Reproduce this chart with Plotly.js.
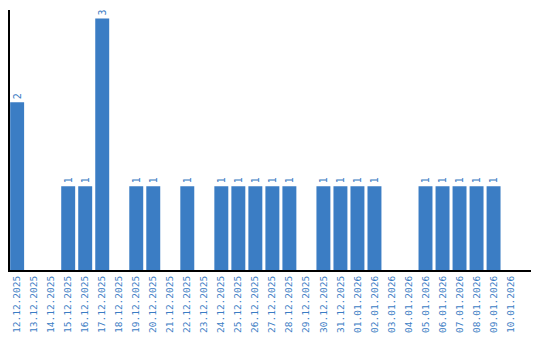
<!DOCTYPE html>
<html><head><meta charset="utf-8">
<script src="https://cdn.plot.ly/plotly-3.0.1.min.js"></script>
<style>html,body{margin:0;padding:0;background:#fff}</style>
</head><body><div id="chart" style="width:540px;height:340px"></div>
<script>
const dates = ["12.12.2025","13.12.2025","14.12.2025","15.12.2025","16.12.2025","17.12.2025","18.12.2025","19.12.2025","20.12.2025","21.12.2025","22.12.2025","23.12.2025","24.12.2025","25.12.2025","26.12.2025","27.12.2025","28.12.2025","29.12.2025","30.12.2025","31.12.2025","01.01.2026","02.01.2026","03.01.2026","04.01.2026","05.01.2026","06.01.2026","07.01.2026","08.01.2026","09.01.2026","10.01.2026"];
const counts = [2,0,0,1,1,3,0,1,1,0,1,0,1,1,1,1,1,0,1,1,1,1,0,0,1,1,1,1,1,0];
const labels = counts.map(v => v > 0 ? String(v) : "");
const blue = "#3b7dc4";
const font = "DejaVu Sans Mono";
Plotly.newPlot("chart", [{
  type: "bar", x: dates, y: counts, text: labels,
  textposition: "outside", textangle: -90, cliponaxis: false,
  textfont: {family: font, size: 10, color: blue},
  marker: {color: blue}, hoverinfo: "none"
}], {
  width: 540, height: 340,
  margin: {l: 10, r: 9, t: 10, b: 70},
  bargap: 0.18,
  paper_bgcolor: "#fff", plot_bgcolor: "#fff",
  showlegend: false,
  xaxis: {type: "category", range: [-0.42, 30.2], tickangle: -90, showline: true, linecolor: "#000", linewidth: 2,
          ticks: "", showgrid: false, zeroline: false,
          tickfont: {family: font, size: 9.5, color: blue}},
  yaxis: {range: [0, 3.1], showline: true, linecolor: "#000", linewidth: 2,
          showticklabels: false, ticks: "", showgrid: false, zeroline: false}
}, {staticPlot: true});
</script></body></html>
